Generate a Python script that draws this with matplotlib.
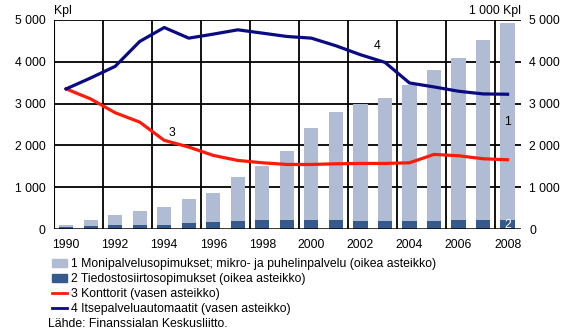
import numpy as np
import matplotlib
matplotlib.use("Agg")
import matplotlib.pyplot as plt
from matplotlib.patches import Patch
from matplotlib.lines import Line2D

matplotlib.rcParams['font.family'] = ['Liberation Sans', 'DejaVu Sans']

# data
years = np.arange(1990, 2009)
monipalvelu = [104, 216, 344, 440, 536, 728, 856, 1240, 1496, 1872,
               2424, 2800, 3000, 3140, 3450, 3800, 4090, 4510, 4920]
tiedosto = [56, 72, 88, 96, 96, 136, 160, 184, 208, 224,
            216, 216, 200, 200, 200, 200, 216, 216, 216]
konttorit = [3350, 3110, 2780, 2556, 2120, 1960, 1760, 1640, 1584, 1544,
             1544, 1560, 1568, 1568, 1584, 1784, 1752, 1680, 1656]
automaatit = [3350, 3611, 3889, 4484, 4817, 4563, 4659, 4762, 4683, 4603,
              4563, 4381, 4167, 3984, 3492, 3397, 3294, 3230, 3222]
yticks = [0, 1000, 2000, 3000, 4000, 5000]
ytick_labels = ["0", "1 000", "2 000", "3 000", "4 000", "5 000"]
xtick_years = list(range(1990, 2009, 2))

light = "#b0bcd4"
dark = "#365a8c"
red = "#ff1a0a"
blue = "#0a0a82"
fs = 8.8

fig = plt.figure(figsize=(5.67, 3.31), dpi=100)
ax = fig.add_axes([0.095, 0.308, 0.824, 0.632])
ax2 = ax.twinx()

# bars on right axis
ax2.bar(years, monipalvelu, width=0.58, color=light, zorder=2)
ax2.bar(years, tiedosto, width=0.58, color=dark, zorder=3)

# lines on left axis
ax.set_zorder(ax2.get_zorder() + 1)
ax.patch.set_visible(False)
ax.plot(years, konttorit, color=red, lw=2.3, zorder=4)
ax.plot(years, automaatit, color=blue, lw=2.3, zorder=4)

for a in (ax, ax2):
    a.set_xlim(1989.5, 2008.55)
    a.set_ylim(0, 5000)
    a.set_yticks(yticks)
    a.tick_params(length=0, labelsize=fs, pad=6)
    for s in a.spines.values():
        s.set_visible(False)

ax.set_yticklabels(ytick_labels)
ax2.set_yticklabels(ytick_labels)
ax.set_xticks(xtick_years)
ax.set_xticklabels([str(y) for y in xtick_years])
ax.tick_params(axis='x', pad=7)

# grid (drawn behind bars)
for yv in yticks[1:]:
    ax2.axhline(yv, color="black", lw=1.3, zorder=1)
for xv in np.arange(1991.5, 2008, 2):
    ax2.axvline(xv, color="black", lw=1.3, zorder=1)
ax2.axvline(1989.5, color="black", lw=1.5, zorder=1)
ax2.axhline(0, color="black", lw=1.8, zorder=5)

ax.text(1989.5, 5080, "Kpl", fontsize=fs, ha="left", va="bottom")
ax.text(2008.55, 5080, "1 000 Kpl", fontsize=fs, ha="right", va="bottom")

ax.text(1994.3, 2150, "3", fontsize=fs, ha="center", va="bottom")
ax.text(2002.7, 4220, "4", fontsize=fs, ha="center", va="bottom")
ax.text(2008, 2550, "1", fontsize=fs, ha="center", va="center")
ax.text(2008, 100, "2", fontsize=fs, ha="center", va="center", color="white", zorder=6)

handles = [
    Patch(color=light),
    Patch(color=dark),
    Line2D([], [], color=red, lw=2),
    Line2D([], [], color=blue, lw=2),
]
labels = [
    "1 Monipalvelusopimukset; mikro- ja puhelinpalvelu (oikea asteikko)",
    "2 Tiedostosiirtosopimukset (oikea asteikko)",
    "3 Konttorit (vasen asteikko)",
    "4 Itsepalveluautomaatit (vasen asteikko)",
]
fig.legend(handles, labels, loc="upper left", bbox_to_anchor=(0.091, 0.22),
           frameon=False, fontsize=fs, handlelength=1.3, handleheight=0.6,
           handletextpad=0.25, labelspacing=0.25, borderaxespad=0, borderpad=0)

fig.text(0.085, 0.012, "Lähde: Finanssialan Keskusliitto.", fontsize=fs)

fig.savefig("out.png", dpi=100)
